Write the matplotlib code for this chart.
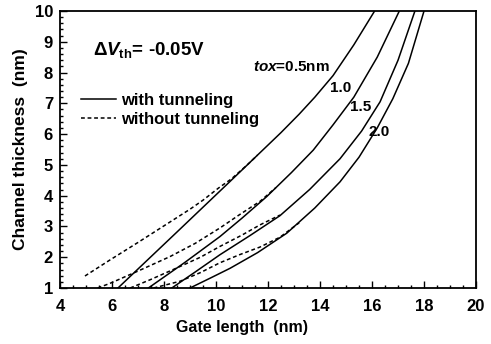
import matplotlib.pyplot as plt
from matplotlib.ticker import MultipleLocator

plt.rcParams['font.family'] = 'Liberation Sans'
plt.rcParams['font.weight'] = 'bold'
plt.rcParams['mathtext.fontset'] = 'custom'
plt.rcParams['mathtext.rm'] = 'Liberation Sans:bold'
plt.rcParams['mathtext.it'] = 'Liberation Sans:italic:bold'
plt.rcParams['mathtext.bf'] = 'Liberation Sans:bold'

# with tunneling (solid)
x_05 = [6.23, 8.5, 10.5, 12.5, 13.2, 13.8, 14.5, 15.3, 16.1]
y_05 = [1.0, 2.82, 4.43, 6.05, 6.65, 7.2, 7.9, 8.9, 10.0]
x_10 = [7.4, 8.8, 10.15, 11.0, 11.95, 12.9, 13.74, 14.5, 15.3, 16.2, 17.05]
y_10 = [1.0, 1.83, 2.67, 3.27, 3.97, 4.75, 5.48, 6.3, 7.2, 8.5, 10.0]
x_15 = [8.3, 9.2, 10.15, 11.3, 12.46, 13.6, 14.77, 15.6, 16.31, 17.0, 17.65]
y_15 = [1.0, 1.52, 2.08, 2.7, 3.35, 4.2, 5.2, 6.1, 7.05, 8.4, 10.0]
x_20 = [9.0, 9.8, 10.54, 11.6, 12.72, 13.8, 14.77, 15.5, 16.2, 16.8, 17.4, 18.0]
y_20 = [1.0, 1.33, 1.64, 2.15, 2.78, 3.6, 4.45, 5.25, 6.2, 7.15, 8.3, 10.0]

# without tunneling (dashed)
xd_05 = [4.96, 5.92, 7.0, 8.0, 9.0, 9.51, 10.1, 10.6, 11.2, 11.6]
yd_05 = [1.39, 1.91, 2.48, 3.02, 3.56, 3.86, 4.25, 4.55, 5.0, 5.32]
xd_10 = [5.45, 5.92, 7.0, 8.23, 9.2, 10.15, 10.9, 11.7, 12.3]
yd_10 = [1.0, 1.15, 1.55, 2.02, 2.45, 2.95, 3.38, 3.82, 4.26]
xd_15 = [6.7, 7.5, 8.62, 9.4, 10.15, 11.0, 11.69, 12.46]
yd_15 = [1.0, 1.28, 1.7, 2.0, 2.35, 2.72, 3.05, 3.37]
xd_20 = [7.6, 8.62, 9.4, 10.15, 10.9, 11.69, 12.46, 13.2]
yd_20 = [1.0, 1.22, 1.5, 1.82, 2.08, 2.33, 2.65, 3.12]

fig = plt.figure(figsize=(4.91, 3.44), dpi=100)
ax = fig.add_axes([0.1222, 0.1628, 0.8473, 0.8052])

solid = [(x_05, y_05), (x_10, y_10), (x_15, y_15), (x_20, y_20)]
dashed = [(xd_05, yd_05), (xd_10, yd_10), (xd_15, yd_15), (xd_20, yd_20)]
for i, (x, y) in enumerate(solid):
    ax.plot(x, y, color='black', lw=1.1, label='with tunneling' if i == 0 else None)
for i, (x, y) in enumerate(dashed):
    ax.plot(x, y, color='black', lw=1.1, linestyle=(0, (2.5, 1.8)),
            label='without tunneling' if i == 0 else None)

ax.set_xlim(4, 20)
ax.set_ylim(1, 10)
ax.xaxis.set_major_locator(MultipleLocator(2))
ax.xaxis.set_minor_locator(MultipleLocator(0.5))
ax.yaxis.set_major_locator(MultipleLocator(1))
ax.yaxis.set_minor_locator(MultipleLocator(0.2))
ax.tick_params(which='both', direction='in', labelsize=12, width=1)
ax.tick_params(which='major', length=5)
ax.tick_params(which='minor', length=2.5)
ax.tick_params(axis='x', pad=8)
ax.tick_params(axis='y', pad=5)
for s in ax.spines.values():
    s.set_linewidth(1.3)

ax.set_xlabel('Gate length  (nm)', fontsize=11.5, fontweight='bold')
ax.xaxis.set_label_coords(0.4375, -0.115)
ax.set_ylabel('Channel thickness  (nm)', fontsize=12.5, fontweight='bold', labelpad=5)

ax.text(5.27, 8.73, r'$\mathit{\Delta V}_{\rm th}$= -0.05V', fontsize=13.5, va='center')
ax.text(11.42, 8.18, r'$\mathit{tox}$=0.5nm', fontsize=11, va='center')
ax.text(14.81, 7.5, '1.0', fontsize=11, ha='center', va='center')
ax.text(15.58, 6.88, '1.5', fontsize=11, ha='center', va='center')
ax.text(16.27, 6.07, '2.0', fontsize=11, ha='center', va='center')

ax.legend(loc='upper left', bbox_to_anchor=(0.05, 0.705), frameon=False, fontsize=12,
          handlelength=2.1, handletextpad=0.3, labelspacing=0.25, borderpad=0,
          borderaxespad=0)

fig.savefig('out.png', dpi=100)
